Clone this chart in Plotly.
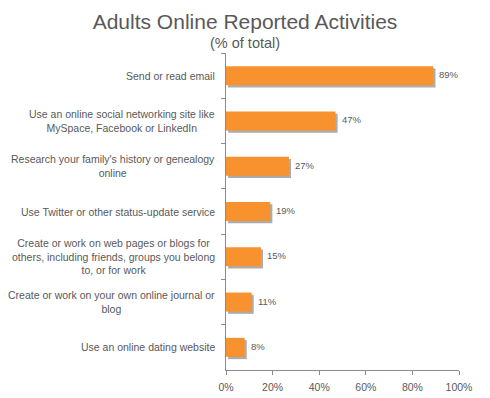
import plotly.graph_objects as go

categories = [
    "Send or read email",
    "Use an online social networking site like<br>MySpace, Facebook or LinkedIn",
    "Research your family's history or genealogy<br>online",
    "Use Twitter or other status-update service",
    "Create or work on web pages or blogs for<br>others, including friends, groups you belong<br>to, or for work",
    "Create or work on your own online journal or<br>blog",
    "Use an online dating website",
]
values = [89, 47, 27, 19, 15, 11, 8]
value_labels = ["89%", "47%", "27%", "19%", "15%", "11%", "8%"]
x_ticks = [0, 20, 40, 60, 80, 100]
x_tick_labels = ["0%", "20%", "40%", "60%", "80%", "100%"]
title_text = "Adults Online Reported Activities"
subtitle_text = "(% of total)"

FONT = "Liberation Sans, Arial, sans-serif"
GRAY = "#595959"
AXIS = "#8c8c8c"
BAR_W = 0.42

fig = go.Figure()
# shadow
fig.add_trace(go.Bar(
    x=values, y=categories, orientation="h", base=0.9,
    width=BAR_W, offset=-BAR_W / 2 + 0.05,
    marker=dict(color="rgba(90,90,90,0.5)", line=dict(width=0)),
    hoverinfo="skip", showlegend=False,
))
fig.add_trace(go.Bar(
    x=values, y=categories, orientation="h",
    width=BAR_W, offset=-BAR_W / 2,
    marker=dict(color="#F7922E", line=dict(width=0)),
    showlegend=False,
))

annotations = []
for c in categories:
    annotations.append(dict(
        x=0, xref="x", y=c, yref="y", text=c, showarrow=False,
        xanchor="right", yanchor="middle", align="center", xshift=-9,
        font=dict(family=FONT, size=10.5, color=GRAY),
    ))
for c, v, lab in zip(categories, values, value_labels):
    annotations.append(dict(
        x=v, xref="x", y=c, yref="y", text=lab, showarrow=False,
        xanchor="left", yanchor="middle", xshift=4, yshift=1,
        font=dict(family=FONT, size=9.5, color=GRAY),
    ))
annotations.append(dict(
    x=(245 - 226) / 233, xref="paper", y=1 + 10 / 317, yref="paper",
    text=subtitle_text, showarrow=False, xanchor="center", yanchor="middle",
    font=dict(family=FONT, size=14.5, color=GRAY),
))

fig.update_layout(
    width=490, height=398,
    margin=dict(l=226, r=31, t=53, b=28, autoexpand=False),
    paper_bgcolor="white", plot_bgcolor="white",
    barmode="overlay",
    title=dict(text=title_text, x=0.5, xanchor="center",
               y=0.965, yanchor="top", yref="container",
               font=dict(family=FONT, size=21, color=GRAY)),
    xaxis=dict(range=[0, 100], tickvals=x_ticks, ticktext=x_tick_labels,
               showgrid=False, zeroline=False, showline=True, linecolor=AXIS, linewidth=1,
               ticks="outside", ticklen=4, tickcolor=AXIS, automargin=False,
               ticklabelstandoff=3,
               tickfont=dict(family=FONT, size=10.5, color=GRAY)),
    yaxis=dict(type="category", autorange="reversed", showticklabels=False,
               showgrid=False, zeroline=False, showline=True, linecolor=AXIS, linewidth=1,
               ticks="outside", ticklen=4, tickcolor=AXIS, tickson="boundaries",
               automargin=False),
    annotations=annotations,
)

fig.write_html("out.html", config={"displayModeBar": False},
               post_script="document.body.style.margin='0';")
